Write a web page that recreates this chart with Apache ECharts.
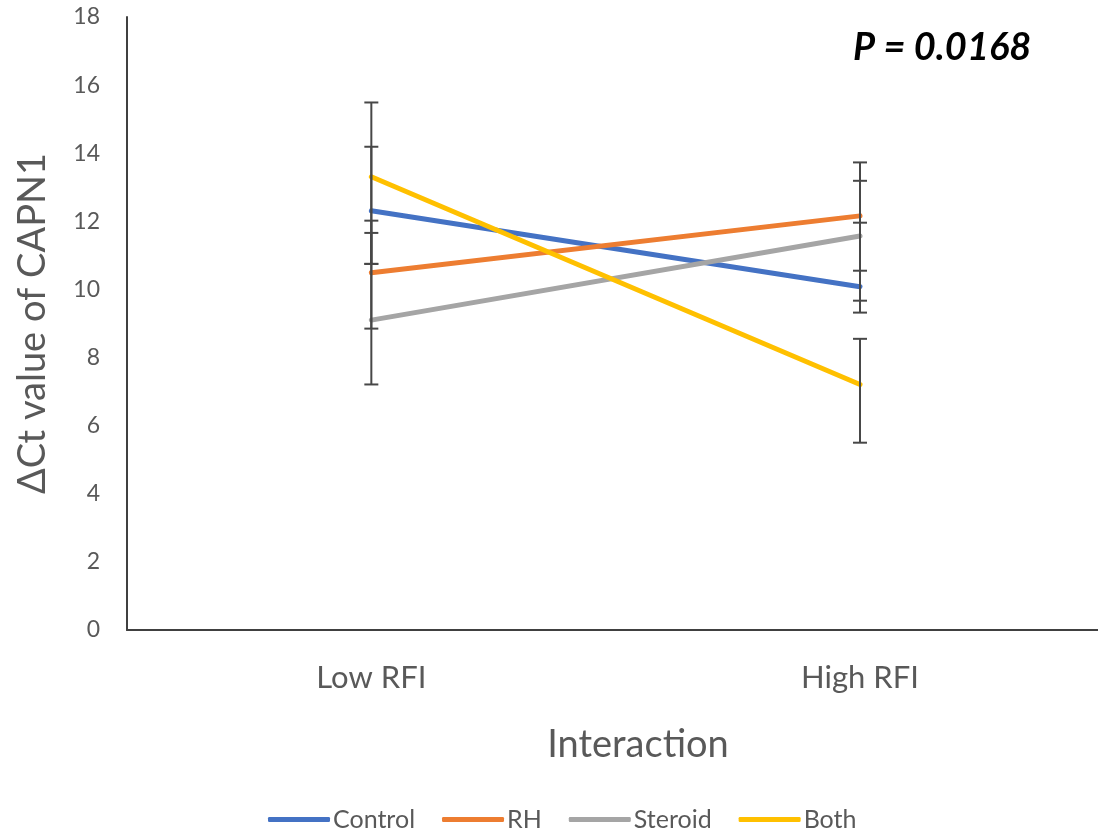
<!DOCTYPE html>
<html>
<head>
<meta charset="utf-8">
<script src="https://cdn.jsdelivr.net/npm/echarts@6/dist/echarts.min.js"></script>
<style>
  html, body { margin: 0; padding: 0; background: #fff; }
  #chart { width: 1098px; height: 832px; }
</style>
</head>
<body>
<div id="chart"></div>
<script>
// Groups on the horizontal axis
const categories = ['Low RFI', 'High RFI'];

// Treatment names, in legend order
const seriesNames = ['Control', 'RH', 'Steroid', 'Both'];

// Mean ΔCt per treatment at Low RFI / High RFI
const controlMeans = [12.31, 10.08];
const rhMeans = [10.49, 12.16];
const steroidMeans = [9.10, 11.57];
const bothMeans = [13.31, 7.21];

// Error bar ends (upper / lower) per treatment at Low RFI / High RFI
const controlUpper = [14.19, 10.55];
const controlLower = [10.75, 9.67];
const rhUpper = [12.02, 13.73];
const rhLower = [8.85, 11.96];
const steroidUpper = [11.66, 13.19];
const steroidLower = [7.21, 9.32];
const bothUpper = [15.49, 8.55];
const bothLower = [10.75, 5.50];

// Value axis ticks
const yTicks = [0, 2, 4, 6, 8, 10, 12, 14, 16, 18];

const xTitle = 'Interaction';
const yTitle = 'ΔCt value of CAPN1';
const pValueText = 'P = 0.0168';

const colors = ['#4472C4', '#ED7D31', '#A5A5A5', '#FFC000'];
const means = [controlMeans, rhMeans, steroidMeans, bothMeans];
const uppers = [controlUpper, rhUpper, steroidUpper, bothUpper];
const lowers = [controlLower, rhLower, steroidLower, bothLower];

const FONT = 'Lato, "Open Sans", sans-serif';
const TEXT = '#595959';

// Categories sit at positions 0 and 1 of a numeric x axis
const catIndex = categories.map((_, i) => i);

const lineSeries = seriesNames.map((name, i) => ({
  name: name,
  type: 'line',
  data: catIndex.map(c => [c, means[i][c]]),
  symbol: 'none',
  color: colors[i],
  lineStyle: { width: 5, color: colors[i], cap: 'round' },
  z: 2,
  animation: false
}));

// Error bars: [categoryIndex, lower, upper]
const errData = [];
for (let s = 0; s < seriesNames.length; s++) {
  for (let c = 0; c < categories.length; c++) {
    errData.push([c, lowers[s][c], uppers[s][c]]);
  }
}

const errorSeries = {
  type: 'custom',
  name: 'error',
  data: errData,
  z: 5,
  animation: false,
  silent: true,
  encode: { x: 0, y: [1, 2] },
  renderItem: function (params, api) {
    const x = api.value(0);
    const lo = api.coord([x, api.value(1)]);
    const hi = api.coord([x, api.value(2)]);
    const half = 7;
    const style = { stroke: '#474747', lineWidth: 2, fill: null };
    return {
      type: 'group',
      children: [
        { type: 'line', shape: { x1: hi[0], y1: hi[1], x2: lo[0], y2: lo[1] }, style: style },
        { type: 'line', shape: { x1: hi[0] - half, y1: hi[1], x2: hi[0] + half, y2: hi[1] }, style: style },
        { type: 'line', shape: { x1: lo[0] - half, y1: lo[1], x2: lo[0] + half, y2: lo[1] }, style: style }
      ]
    };
  }
};

const chart = echarts.init(document.getElementById('chart'), null, { renderer: 'canvas' });

chart.setOption({
  backgroundColor: '#ffffff',
  animation: false,
  textStyle: { fontFamily: FONT },
  grid: { left: 127, top: 17, right: 0, height: 613, containLabel: false },
  legend: {
    data: seriesNames,
    top: 802,
    left: 263,
    itemWidth: 62,
    itemHeight: 5,
    itemGap: 27,
    icon: 'roundRect',
    textStyle: { fontSize: 25, color: TEXT, fontFamily: FONT, padding: [0, 0, 0, -2] }
  },
  xAxis: {
    type: 'value',
    min: -0.5,
    max: 1.487,
    axisLine: { show: true, onZero: false, lineStyle: { color: '#404040', width: 2 } },
    axisTick: { show: false },
    splitLine: { show: false },
    axisLabel: {
      customValues: catIndex,
      fontSize: 31,
      color: TEXT,
      margin: 32,
      fontFamily: FONT,
      formatter: v => categories[Math.round(v)]
    }
  },
  yAxis: {
    type: 'value',
    min: yTicks[0],
    max: yTicks[yTicks.length - 1],
    interval: 2,
    axisLine: { show: true, onZero: false, lineStyle: { color: '#404040', width: 2 } },
    axisTick: { show: false },
    splitLine: { show: false },
    axisLabel: { fontSize: 23, color: TEXT, margin: 27, fontFamily: FONT },
    name: yTitle,
    nameLocation: 'middle',
    nameGap: 75,
    nameTextStyle: { fontSize: 38, color: TEXT, fontFamily: FONT }
  },
  graphic: [{
    type: 'text',
    left: 853,
    top: 29,
    style: {
      text: pValueText,
      font: 'italic bold 38px ' + FONT,
      fill: '#000000'
    }
  }, {
    type: 'text',
    x: 638,
    y: 745,
    style: {
      text: xTitle,
      font: '38px ' + FONT,
      fill: TEXT,
      align: 'center',
      verticalAlign: 'middle'
    }
  }],
  series: lineSeries.concat([errorSeries])
});
</script>
</body>
</html>
